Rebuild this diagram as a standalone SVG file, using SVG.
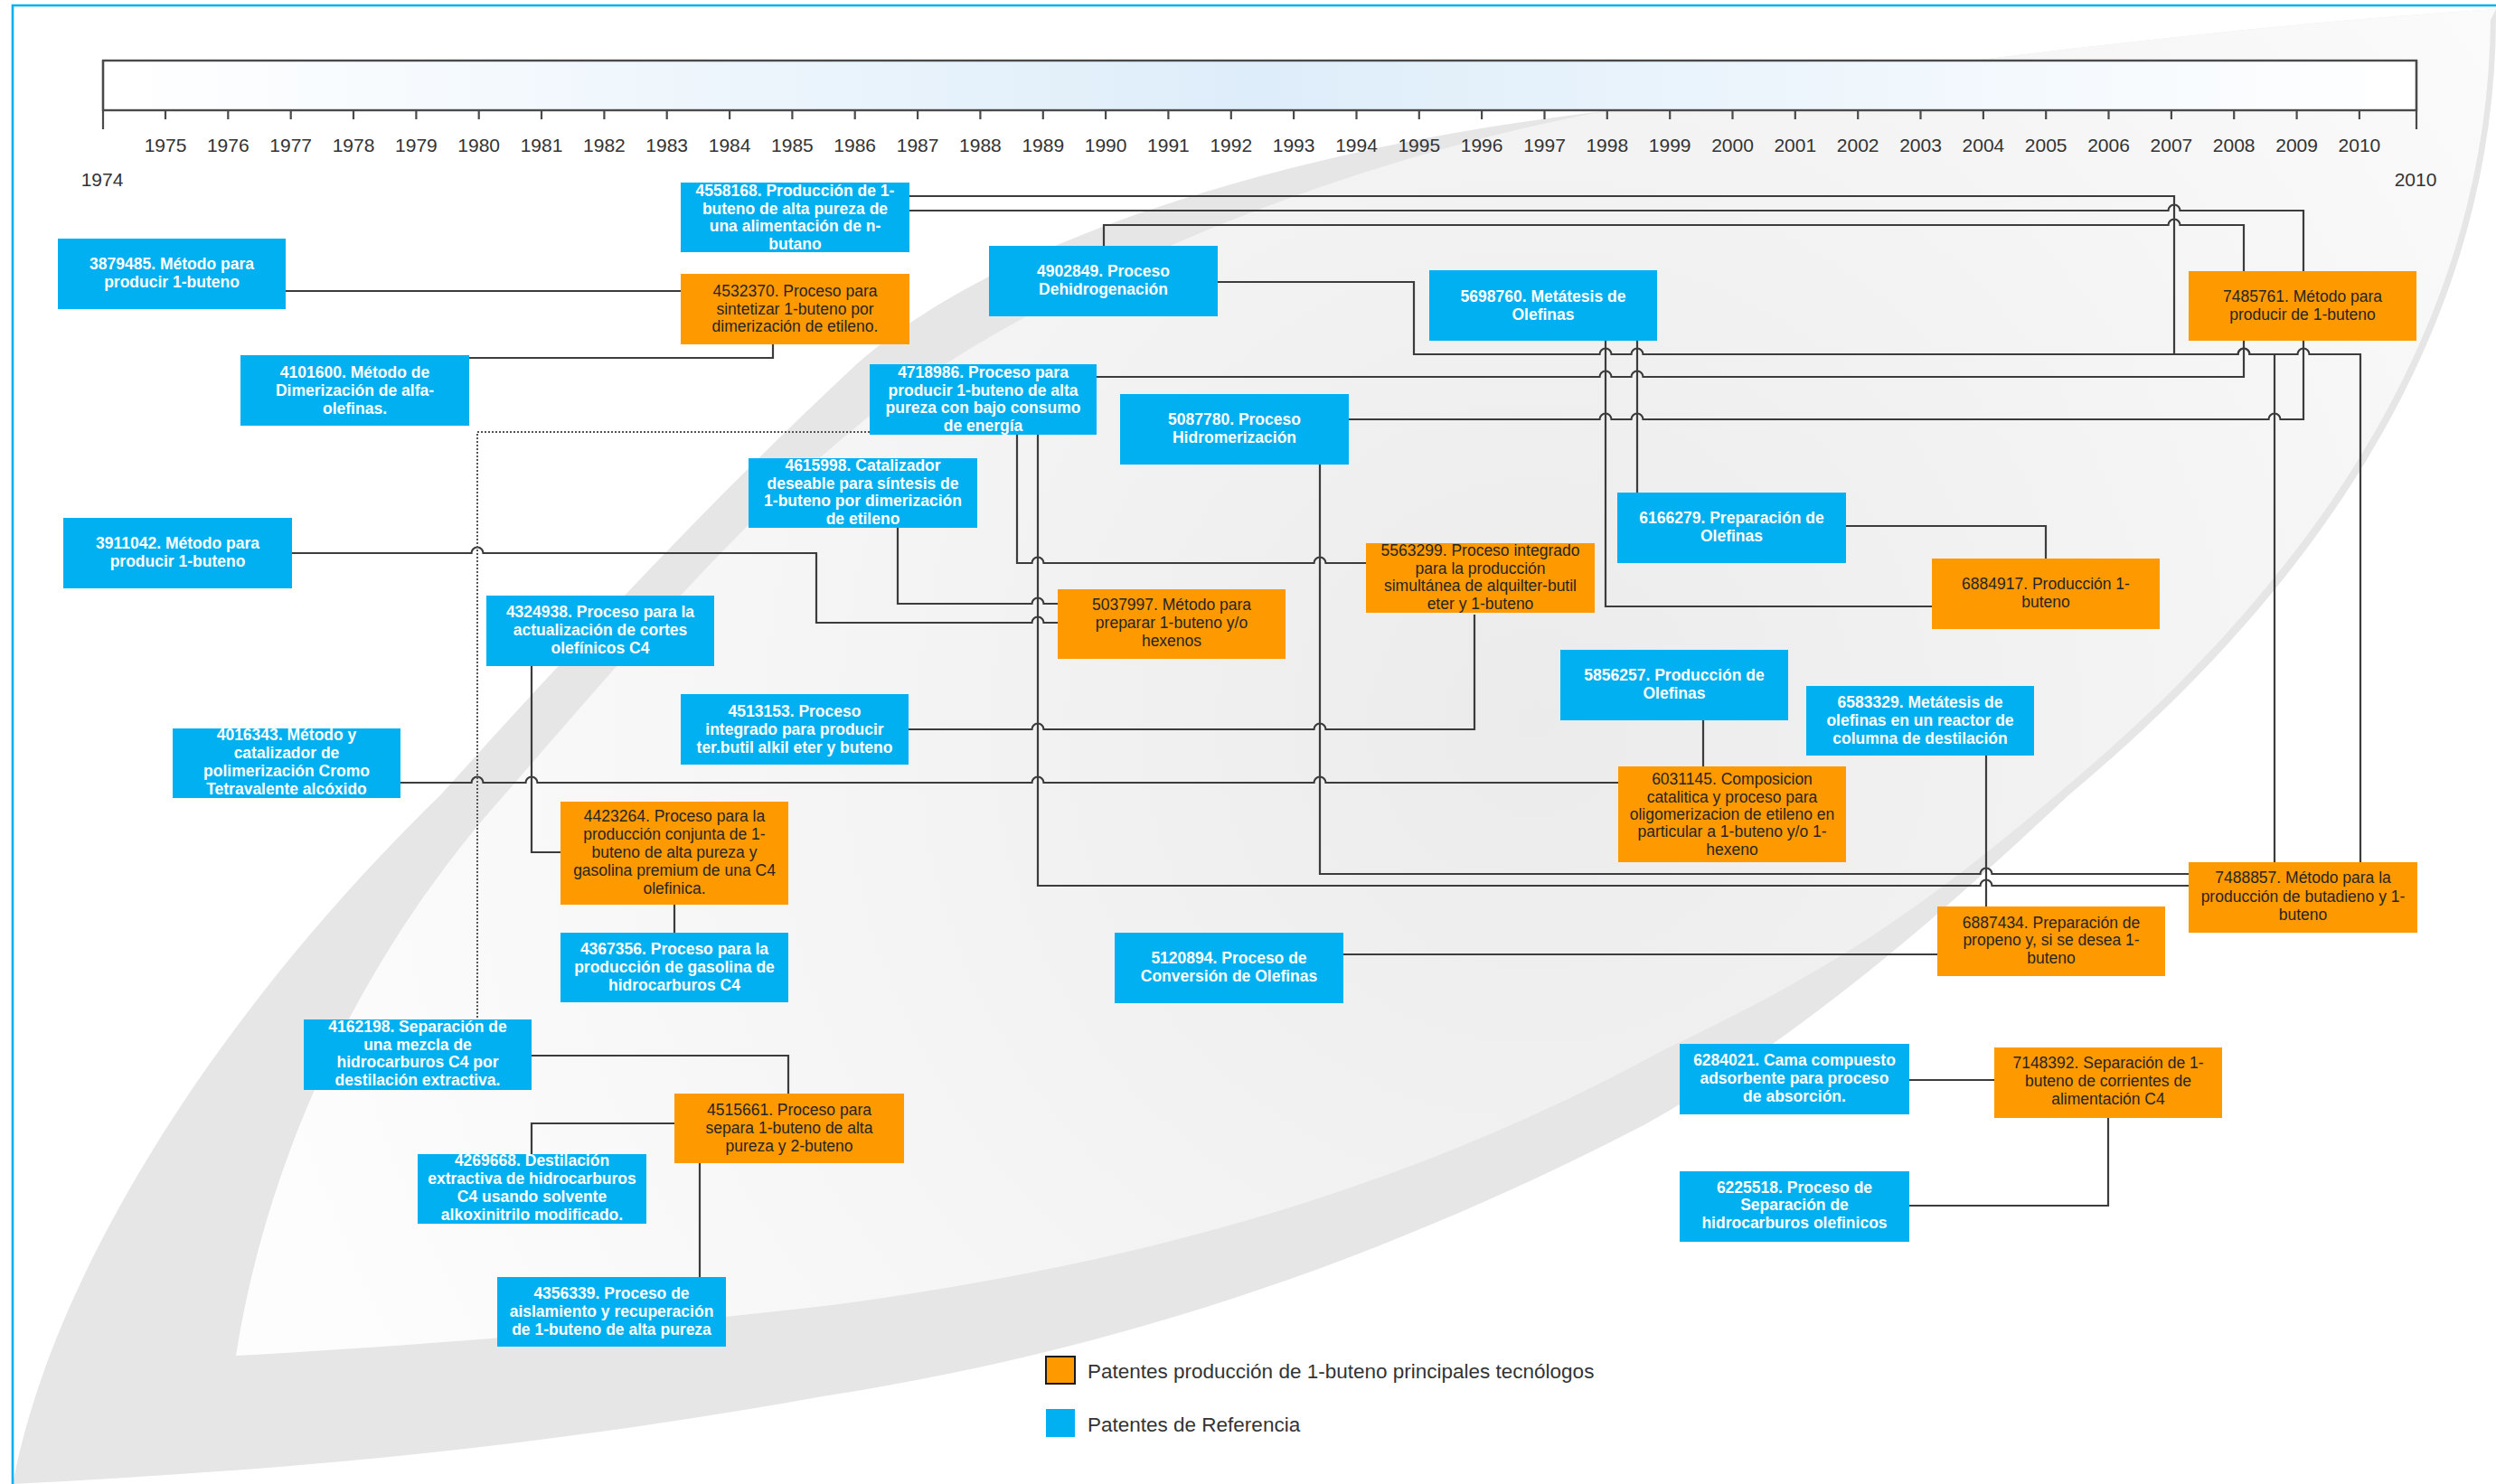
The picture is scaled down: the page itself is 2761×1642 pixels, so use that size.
<svg xmlns="http://www.w3.org/2000/svg" width="2761" height="1642" viewBox="0 0 2761 1642">
  <defs>
    <linearGradient id="barFill" x1="0" y1="0" x2="1" y2="0">
      <stop offset="0" stop-color="#ffffff"/>
      <stop offset="0.5" stop-color="#ddedf9"/>
      <stop offset="1" stop-color="#ffffff"/>
    </linearGradient>
    <radialGradient id="innerFill" gradientUnits="userSpaceOnUse" cx="1700" cy="800" r="1500">
      <stop offset="0" stop-color="#ebebeb"/>
      <stop offset="1" stop-color="#fdfdfd"/>
    </radialGradient>
    <style>
      .ref { fill: #00b0f0; }
      .main { fill: #ff9900; }
      .tw { fill: #ffffff; font-family: "Liberation Sans", Arial, sans-serif; font-size: 17.5px; font-weight: bold; text-anchor: middle; dominant-baseline: central; }
      .tk { fill: #262626; font-family: "Liberation Sans", Arial, sans-serif; font-size: 17.5px; text-anchor: middle; dominant-baseline: central; }
      .conn { fill: none; stroke: #3c3c3c; stroke-width: 2.2; }
      .dot { fill: none; stroke: #555555; stroke-width: 2; stroke-dasharray: 2 2; }
      .yr { fill: #333333; font-family: "Liberation Sans", Arial, sans-serif; font-size: 21px; text-anchor: middle; dominant-baseline: central; }
      .leg { fill: #333333; font-family: "Liberation Sans", Arial, sans-serif; font-size: 22.5px; dominant-baseline: central; }
      .tick { stroke: #4a4a4a; stroke-width: 2.2; }
    </style>
  </defs>

  <!-- page background and decorative swoosh -->
  <rect x="0" y="0" width="2761" height="1642" fill="#ffffff"/>
  <path id="swoosh-band" fill="#e6e6e6" d="M14,1642 C60,1400 250,1110 487,880 C640,710 790,550 940,410 C1100,260 1450,160 1775,123 C2100,75 2450,30 2761,10 L2761,20 C2760,330 2600,620 2288,880 C2150,1010 1990,1150 1820,1244 C1500,1410 1200,1500 910,1545 C550,1610 250,1630 14,1642 Z"/>
  <path id="swoosh-inner" fill="url(#innerFill)" d="M261,1500 C300,1250 420,1040 540,900 C680,740 820,570 975,450 C1200,290 1500,175 1775,123 C2100,75 2450,30 2761,10 L2755,22 C2752,330 2592,615 2280,875 C2100,1030 1990,1090 1840,1162 C1550,1320 1250,1400 920,1444 C700,1470 450,1490 261,1500 Z"/>

  <!-- frame -->
  <path d="M14,1642 V6 H2761" fill="none" stroke="#00b0f0" stroke-width="2.6"/>

  <!-- timeline -->
  <g id="timeline">
    <rect x="114" y="67" width="2559" height="55" fill="url(#barFill)" stroke="#4a4a4a" stroke-width="2.4"/>
    <path class="tick" d="M114,67 V143 M2673,67 V143"/>
    <path class="tick" d="M183,122 v10 M252.3,122 v10 M321.7,122 v10 M391,122 v10 M460.4,122 v10 M529.7,122 v10 M599,122 v10 M668.4,122 v10 M737.7,122 v10 M807.1,122 v10 M876.4,122 v10 M945.7,122 v10 M1015.1,122 v10 M1084.4,122 v10 M1153.8,122 v10 M1223.1,122 v10 M1292.4,122 v10 M1361.8,122 v10 M1431.1,122 v10 M1500.5,122 v10 M1569.8,122 v10 M1639.1,122 v10 M1708.5,122 v10 M1777.8,122 v10 M1847.2,122 v10 M1916.5,122 v10 M1985.8,122 v10 M2055.2,122 v10 M2124.5,122 v10 M2193.9,122 v10 M2263.2,122 v10 M2332.5,122 v10 M2401.9,122 v10 M2471.2,122 v10 M2540.6,122 v10 M2609.9,122 v10"/>
    <text class="yr" x="183" y="160">1975</text>
    <text class="yr" x="252.3" y="160">1976</text>
    <text class="yr" x="321.7" y="160">1977</text>
    <text class="yr" x="391" y="160">1978</text>
    <text class="yr" x="460.4" y="160">1979</text>
    <text class="yr" x="529.7" y="160">1980</text>
    <text class="yr" x="599" y="160">1981</text>
    <text class="yr" x="668.4" y="160">1982</text>
    <text class="yr" x="737.7" y="160">1983</text>
    <text class="yr" x="807.1" y="160">1984</text>
    <text class="yr" x="876.4" y="160">1985</text>
    <text class="yr" x="945.7" y="160">1986</text>
    <text class="yr" x="1015.1" y="160">1987</text>
    <text class="yr" x="1084.4" y="160">1988</text>
    <text class="yr" x="1153.8" y="160">1989</text>
    <text class="yr" x="1223.1" y="160">1990</text>
    <text class="yr" x="1292.4" y="160">1991</text>
    <text class="yr" x="1361.8" y="160">1992</text>
    <text class="yr" x="1431.1" y="160">1993</text>
    <text class="yr" x="1500.5" y="160">1994</text>
    <text class="yr" x="1569.8" y="160">1995</text>
    <text class="yr" x="1639.1" y="160">1996</text>
    <text class="yr" x="1708.5" y="160">1997</text>
    <text class="yr" x="1777.8" y="160">1998</text>
    <text class="yr" x="1847.2" y="160">1999</text>
    <text class="yr" x="1916.5" y="160">2000</text>
    <text class="yr" x="1985.8" y="160">2001</text>
    <text class="yr" x="2055.2" y="160">2002</text>
    <text class="yr" x="2124.5" y="160">2003</text>
    <text class="yr" x="2193.9" y="160">2004</text>
    <text class="yr" x="2263.2" y="160">2005</text>
    <text class="yr" x="2332.5" y="160">2006</text>
    <text class="yr" x="2401.9" y="160">2007</text>
    <text class="yr" x="2471.2" y="160">2008</text>
    <text class="yr" x="2540.6" y="160">2009</text>
    <text class="yr" x="2609.9" y="160">2010</text>
    <text class="yr" x="113" y="198">1974</text>
    <text class="yr" x="2672" y="198">2010</text>
  </g>

  <!-- connectors (line jumps drawn as small arcs on horizontal runs) -->
  <g id="connectors">
    <path class="conn" d="M316,322 H753"/>
    <path class="conn" d="M855,381 V396 H519"/>
    <path class="conn" d="M1006,217 H2405 V392 H2475.5 a6.5,6.5 0 0 1 13,0 H2541.5 a6.5,6.5 0 0 1 13,0 H2611 V954"/>
    <path class="conn" d="M1006,233 H2398.5 a6.5,6.5 0 0 1 13,0 H2548 V300"/>
    <path class="conn" d="M1221,272 V249 H2398.5 a6.5,6.5 0 0 1 13,0 H2482 V300"/>
    <path class="conn" d="M1347,312 H1564 V392 H1769.5 a6.5,6.5 0 0 1 13,0 H1804.5 a6.5,6.5 0 0 1 13,0 H2475.5 a6.5,6.5 0 0 1 13,0 H2516 V954"/>
    <path class="conn" d="M1213,417 H1769.5 a6.5,6.5 0 0 1 13,0 H1804.5 a6.5,6.5 0 0 1 13,0 H2482 V377"/>
    <path class="conn" d="M1492,464 H1769.5 a6.5,6.5 0 0 1 13,0 H1804.5 a6.5,6.5 0 0 1 13,0 H2509.5 a6.5,6.5 0 0 1 13,0 H2548 V377"/>
    <path class="conn" d="M1776,377 V671 H2137"/>
    <path class="conn" d="M1811,377 V545"/>
    <path class="conn" d="M2042,582 H2263 V618"/>
    <path class="conn" d="M1125,481 V623 H1141.5 a6.5,6.5 0 0 1 13,0 H1453.5 a6.5,6.5 0 0 1 13,0 H1511"/>
    <path class="conn" d="M1148,481 V980 H2190.5 a6.5,6.5 0 0 1 13,0 H2421"/>
    <path class="conn" d="M1460,514 V967 H2190.5 a6.5,6.5 0 0 1 13,0 H2421"/>
    <path class="conn" d="M993,584 V668 H1141.5 a6.5,6.5 0 0 1 13,0 H1170"/>
    <path class="conn" d="M323,612 H521.5 a6.5,6.5 0 0 1 13,0 H903 V689 H1141.5 a6.5,6.5 0 0 1 13,0 H1170"/>
    <path class="conn" d="M1005,807 H1141.5 a6.5,6.5 0 0 1 13,0 H1453.5 a6.5,6.5 0 0 1 13,0 H1631 V680"/>
    <path class="conn" d="M443,866 H521.5 a6.5,6.5 0 0 1 13,0 H581.5 a6.5,6.5 0 0 1 13,0 H1141.5 a6.5,6.5 0 0 1 13,0 H1453.5 a6.5,6.5 0 0 1 13,0 H1790"/>
    <path class="conn" d="M588,737 V943 H620"/>
    <path class="conn" d="M746,1001 V1032"/>
    <path class="dot" d="M962,478 H528 V1128"/>
    <path class="conn" d="M588,1168 H872 V1210"/>
    <path class="conn" d="M746,1243 H588 V1277"/>
    <path class="conn" d="M774,1287 V1413"/>
    <path class="conn" d="M1884,797 V848"/>
    <path class="conn" d="M2197,836 V1003"/>
    <path class="conn" d="M1486,1056 H2143"/>
    <path class="conn" d="M2112,1195 H2206"/>
    <path class="conn" d="M2332,1237 V1334 H2112"/>
  </g>

  <!-- patents -->
  <g id="n4558168"><rect class="ref" x="753" y="202" width="253" height="77"/>
    <text class="tw" x="879.5" y="211">4558168. Producción de 1-</text>
    <text class="tw" x="879.5" y="231">buteno de alta pureza de</text>
    <text class="tw" x="879.5" y="250">una alimentación de n-</text>
    <text class="tw" x="879.5" y="270">butano</text></g>
  <g id="n3879485"><rect class="ref" x="64" y="264" width="252" height="78"/>
    <text class="tw" x="190" y="292">3879485. Método para</text>
    <text class="tw" x="190" y="312">producir 1-buteno</text></g>
  <g id="n4532370"><rect class="main" x="753" y="303" width="253" height="78"/>
    <text class="tk" x="879.5" y="322">4532370. Proceso para</text>
    <text class="tk" x="879.5" y="342">sintetizar 1-buteno por</text>
    <text class="tk" x="879.5" y="361">dimerización de etileno.</text></g>
  <g id="n4101600"><rect class="ref" x="266" y="393" width="253" height="78"/>
    <text class="tw" x="392.5" y="412">4101600. Método de</text>
    <text class="tw" x="392.5" y="432">Dimerización de alfa-</text>
    <text class="tw" x="392.5" y="452">olefinas.</text></g>
  <g id="n4902849"><rect class="ref" x="1094" y="272" width="253" height="78"/>
    <text class="tw" x="1220.5" y="300">4902849. Proceso</text>
    <text class="tw" x="1220.5" y="320">Dehidrogenación</text></g>
  <g id="n5698760"><rect class="ref" x="1581" y="299" width="252" height="78"/>
    <text class="tw" x="1707" y="328">5698760. Metátesis de</text>
    <text class="tw" x="1707" y="348">Olefinas</text></g>
  <g id="n7485761"><rect class="main" x="2421" y="300" width="252" height="77"/>
    <text class="tk" x="2547" y="328">7485761. Método para</text>
    <text class="tk" x="2547" y="348">producir de 1-buteno</text></g>
  <g id="n4718986"><rect class="ref" x="962" y="403" width="251" height="78"/>
    <text class="tw" x="1087.5" y="412">4718986. Proceso para</text>
    <text class="tw" x="1087.5" y="432">producir 1-buteno de alta</text>
    <text class="tw" x="1087.5" y="451">pureza con bajo consumo</text>
    <text class="tw" x="1087.5" y="471">de energía</text></g>
  <g id="n5087780"><rect class="ref" x="1239" y="436" width="253" height="78"/>
    <text class="tw" x="1365.5" y="464">5087780. Proceso</text>
    <text class="tw" x="1365.5" y="484">Hidromerización</text></g>
  <g id="n4615998"><rect class="ref" x="828" y="507" width="253" height="77"/>
    <text class="tw" x="954.5" y="515">4615998. Catalizador</text>
    <text class="tw" x="954.5" y="535">deseable para síntesis de</text>
    <text class="tw" x="954.5" y="554">1-buteno por dimerización</text>
    <text class="tw" x="954.5" y="574">de etileno</text></g>
  <g id="n3911042"><rect class="ref" x="70" y="573" width="253" height="78"/>
    <text class="tw" x="196.5" y="601">3911042. Método para</text>
    <text class="tw" x="196.5" y="621">producir 1-buteno</text></g>
  <g id="n6166279"><rect class="ref" x="1789" y="545" width="253" height="78"/>
    <text class="tw" x="1915.5" y="573">6166279. Preparación de</text>
    <text class="tw" x="1915.5" y="593">Olefinas</text></g>
  <g id="n5563299"><rect class="main" x="1511" y="601" width="253" height="77"/>
    <text class="tk" x="1637.5" y="609">5563299. Proceso integrado</text>
    <text class="tk" x="1637.5" y="629">para la producción</text>
    <text class="tk" x="1637.5" y="648">simultánea de alquilter-butil</text>
    <text class="tk" x="1637.5" y="668">eter y 1-buteno</text></g>
  <g id="n6884917"><rect class="main" x="2137" y="618" width="252" height="78"/>
    <text class="tk" x="2263" y="646">6884917. Producción 1-</text>
    <text class="tk" x="2263" y="666">buteno</text></g>
  <g id="n5037997"><rect class="main" x="1170" y="652" width="252" height="77"/>
    <text class="tk" x="1296" y="669">5037997. Método para</text>
    <text class="tk" x="1296" y="689">preparar 1-buteno y/o</text>
    <text class="tk" x="1296" y="709">hexenos</text></g>
  <g id="n4324938"><rect class="ref" x="538" y="659" width="252" height="78"/>
    <text class="tw" x="664" y="677">4324938. Proceso para la</text>
    <text class="tw" x="664" y="697">actualización de cortes</text>
    <text class="tw" x="664" y="717">olefínicos C4</text></g>
  <g id="n5856257"><rect class="ref" x="1726" y="719" width="252" height="78"/>
    <text class="tw" x="1852" y="747">5856257. Producción de</text>
    <text class="tw" x="1852" y="767">Olefinas</text></g>
  <g id="n6583329"><rect class="ref" x="1998" y="759" width="252" height="77"/>
    <text class="tw" x="2124" y="777">6583329. Metátesis de</text>
    <text class="tw" x="2124" y="797">olefinas en un reactor de</text>
    <text class="tw" x="2124" y="817">columna de destilación</text></g>
  <g id="n4513153"><rect class="ref" x="753" y="768" width="252" height="78"/>
    <text class="tw" x="879" y="787">4513153. Proceso</text>
    <text class="tw" x="879" y="807">integrado para producir</text>
    <text class="tw" x="879" y="827">ter.butil alkil eter y buteno</text></g>
  <g id="n4016343"><rect class="ref" x="191" y="806" width="252" height="77"/>
    <text class="tw" x="317" y="813">4016343. Método y</text>
    <text class="tw" x="317" y="833">catalizador de</text>
    <text class="tw" x="317" y="853">polimerización Cromo</text>
    <text class="tw" x="317" y="873">Tetravalente alcóxido</text></g>
  <g id="n6031145"><rect class="main" x="1790" y="848" width="252" height="106"/>
    <text class="tk" x="1916" y="862">6031145. Composicion</text>
    <text class="tk" x="1916" y="882">catalitica y proceso para</text>
    <text class="tk" x="1916" y="901">oligomerizacion de etileno en</text>
    <text class="tk" x="1916" y="920">particular a 1-buteno y/o 1-</text>
    <text class="tk" x="1916" y="940">hexeno</text></g>
  <g id="n4423264"><rect class="main" x="620" y="887" width="252" height="114"/>
    <text class="tk" x="746" y="903">4423264. Proceso para la</text>
    <text class="tk" x="746" y="923">producción conjunta de 1-</text>
    <text class="tk" x="746" y="943">buteno de alta pureza y</text>
    <text class="tk" x="746" y="963">gasolina premium de una C4</text>
    <text class="tk" x="746" y="983">olefinica.</text></g>
  <g id="n7488857"><rect class="main" x="2421" y="954" width="253" height="78"/>
    <text class="tk" x="2547.5" y="971">7488857. Método para la</text>
    <text class="tk" x="2547.5" y="992">producción de butadieno y 1-</text>
    <text class="tk" x="2547.5" y="1012">buteno</text></g>
  <g id="n6887434"><rect class="main" x="2143" y="1003" width="252" height="77"/>
    <text class="tk" x="2269" y="1021">6887434. Preparación de</text>
    <text class="tk" x="2269" y="1040">propeno y, si se desea 1-</text>
    <text class="tk" x="2269" y="1060">buteno</text></g>
  <g id="n4367356"><rect class="ref" x="620" y="1032" width="252" height="77"/>
    <text class="tw" x="746" y="1050">4367356. Proceso para la</text>
    <text class="tw" x="746" y="1070">producción de gasolina de</text>
    <text class="tw" x="746" y="1090">hidrocarburos C4</text></g>
  <g id="n5120894"><rect class="ref" x="1233" y="1032" width="253" height="78"/>
    <text class="tw" x="1359.5" y="1060">5120894. Proceso de</text>
    <text class="tw" x="1359.5" y="1080">Conversión de Olefinas</text></g>
  <g id="n4162198"><rect class="ref" x="336" y="1128" width="252" height="78"/>
    <text class="tw" x="462" y="1136">4162198. Separación de</text>
    <text class="tw" x="462" y="1156">una mezcla de</text>
    <text class="tw" x="462" y="1175">hidrocarburos C4 por</text>
    <text class="tw" x="462" y="1195">destilación extractiva.</text></g>
  <g id="n6284021"><rect class="ref" x="1858" y="1155" width="254" height="78"/>
    <text class="tw" x="1985" y="1173">6284021. Cama compuesto</text>
    <text class="tw" x="1985" y="1193">adsorbente para proceso</text>
    <text class="tw" x="1985" y="1213">de absorción.</text></g>
  <g id="n7148392"><rect class="main" x="2206" y="1159" width="252" height="78"/>
    <text class="tk" x="2332" y="1176">7148392. Separación de 1-</text>
    <text class="tk" x="2332" y="1196">buteno de corrientes de</text>
    <text class="tk" x="2332" y="1216">alimentación C4</text></g>
  <g id="n4515661"><rect class="main" x="746" y="1210" width="254" height="77"/>
    <text class="tk" x="873" y="1228">4515661. Proceso para</text>
    <text class="tk" x="873" y="1248">separa 1-buteno de alta</text>
    <text class="tk" x="873" y="1268">pureza y 2-buteno</text></g>
  <g id="n4269668"><rect class="ref" x="462" y="1277" width="253" height="77"/>
    <text class="tw" x="588.5" y="1284">4269668. Destilación</text>
    <text class="tw" x="588.5" y="1304">extractiva de hidrocarburos</text>
    <text class="tw" x="588.5" y="1324">C4 usando solvente</text>
    <text class="tw" x="588.5" y="1344">alkoxinitrilo modificado.</text></g>
  <g id="n6225518"><rect class="ref" x="1858" y="1296" width="254" height="78"/>
    <text class="tw" x="1985" y="1314">6225518. Proceso de</text>
    <text class="tw" x="1985" y="1333">Separación de</text>
    <text class="tw" x="1985" y="1353">hidrocarburos olefinicos</text></g>
  <g id="n4356339"><rect class="ref" x="550" y="1413" width="253" height="77"/>
    <text class="tw" x="676.5" y="1431">4356339. Proceso de</text>
    <text class="tw" x="676.5" y="1451">aislamiento y recuperación</text>
    <text class="tw" x="676.5" y="1471">de 1-buteno de alta pureza</text></g>

  <!-- legend -->
  <g id="legend">
    <rect x="1157" y="1501" width="32" height="30" fill="#ff9900" stroke="#1a1a1a" stroke-width="2"/>
    <text class="leg" x="1203" y="1517">Patentes producción de 1-buteno principales tecnólogos</text>
    <rect class="ref" x="1157" y="1559" width="32" height="31"/>
    <text class="leg" x="1203" y="1576">Patentes de Referencia</text>
  </g>
</svg>
